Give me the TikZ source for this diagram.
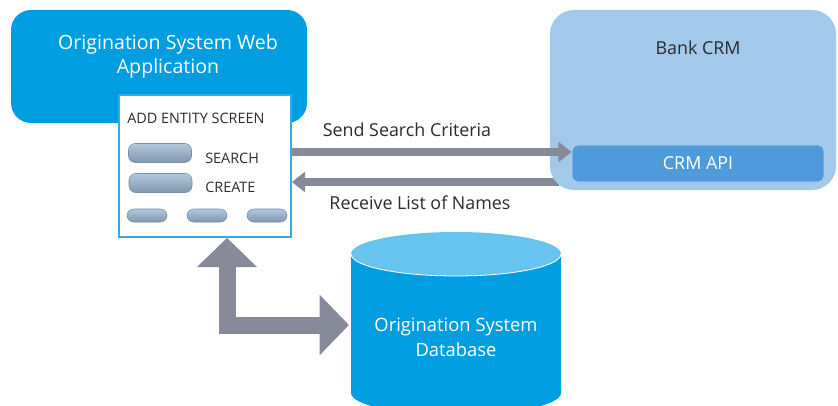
\documentclass[tikz,border=0pt]{standalone}
\usepackage{fontspec}
\setmainfont{Open Sans}
\usetikzlibrary{arrows.meta,calc}
\definecolor{appblue}{HTML}{009EE0}
\definecolor{dbtop}{HTML}{67C4EF}
\definecolor{crmlight}{HTML}{A2C8EA}
\definecolor{apiblue}{HTML}{4F9ADA}
\definecolor{apiline}{HTML}{B4D6F2}
\definecolor{scrline}{HTML}{3AAAE2}
\definecolor{btnfill}{HTML}{8CA8C3}
\definecolor{btntop}{HTML}{B3C8DC}
\definecolor{btnline}{HTML}{7390AC}
\definecolor{flowgrey}{HTML}{878B99}
\definecolor{txtdark}{HTML}{2B2B2B}
\tikzset{
  btn/.style={rounded corners=5pt,top color=btntop,bottom color=btnfill!90!black,draw=btnline,line width=0.4pt},
  lbl/.style={text=txtdark,font=\fontsize{13.4}{16}\selectfont,inner sep=0pt},
  small/.style={text=txtdark,font=\fontsize{10.8}{13}\selectfont,inner sep=0pt,anchor=west},
  flow/.style={draw=flowgrey,line width=6pt,-{Triangle[length=10pt,width=15pt]}},
}
\begin{document}
\begin{tikzpicture}[x=0.75pt,y=-0.75pt]
                \useasboundingbox (0,0) rectangle (838,406);
                \clip (0,0) rectangle (838,406);
                % web application
                \node[fill=appblue,rounded corners=15pt,minimum width=222pt,minimum height=84.75pt] (app) at (159,66.5) {};
                \node[text=white,align=center,font=\fontsize{14.7}{18}\selectfont] (apptitle) at (168,56) {Origination System Web\\Application};
                \node[draw=scrline,fill=white,line width=1.3pt,minimum width=129pt,minimum height=106.5pt] (scr) at (205,166) {};
                \node[small] (scrtitle) at (127,118) {ADD ENTITY SCREEN};
                \node[btn,minimum width=47.25pt,minimum height=14.25pt] (search) at (160,153) {};
                \node[btn,minimum width=47.25pt,minimum height=14.25pt] (create) at (160.5,183) {};
                \foreach \bx/\bn in {147/b1,207/b2,267/b3}
                  \node[btn,minimum width=30pt,minimum height=9.75pt] (\bn) at (\bx,215.5) {};
                \node[small] (searchlbl) at (205,158) {SEARCH};
                \node[small] (createlbl) at (205,187) {CREATE};
                % bank crm
                \coordinate (r) at ($(scr.east)+(0,-12pt)$);
                \draw[flow] (559,182) -- (r);
                \node[fill=crmlight,rounded corners=18pt,minimum width=214.5pt,minimum height=135pt] (crm) at (693,100) {};
                \node[lbl] (crmtitle) at (698,48) {Bank CRM};
                \node[fill=apiblue,draw=apiline,line width=0.6pt,rounded corners=4pt,minimum width=189pt,minimum height=27.75pt,text=white,font=\fontsize{13.4}{16}\selectfont] (api) at (698,163.5) {CRM API};
                \coordinate (s) at ($(scr.east)+(0,10.5pt)$);
                \draw[flow] (s) -- (s -| api.west);
                \node[lbl] (sendlbl) at (407,130) {Send Search Criteria};
                \node[lbl] (recvlbl) at (420,203) {Receive List of Names};
                % database
                \fill[appblue] (351,254) -- (351,393) arc[start angle=180,end angle=360,x radius=78.75pt,y radius=16.5pt] -- (561,254) -- cycle;
                \fill[dbtop] (456,254) ellipse [x radius=78.75pt,y radius=16.5pt];
                \draw[white,line width=0.6pt] (351,254) arc[start angle=180,end angle=360,x radius=78.75pt,y radius=16.5pt];
                \node[text=white,align=center,font=\fontsize{13.8}{18.75}\selectfont] (db) at (456,337) {Origination System\\Database};
                \coordinate (dbw) at (349,325);
                \draw[draw=flowgrey,line width=12.75pt,{Triangle[length=22pt,width=44pt]}-{Triangle[length=22pt,width=44pt]}] ([xshift=16.5pt]scr.south) |- (dbw);
\end{tikzpicture}
\end{document}
